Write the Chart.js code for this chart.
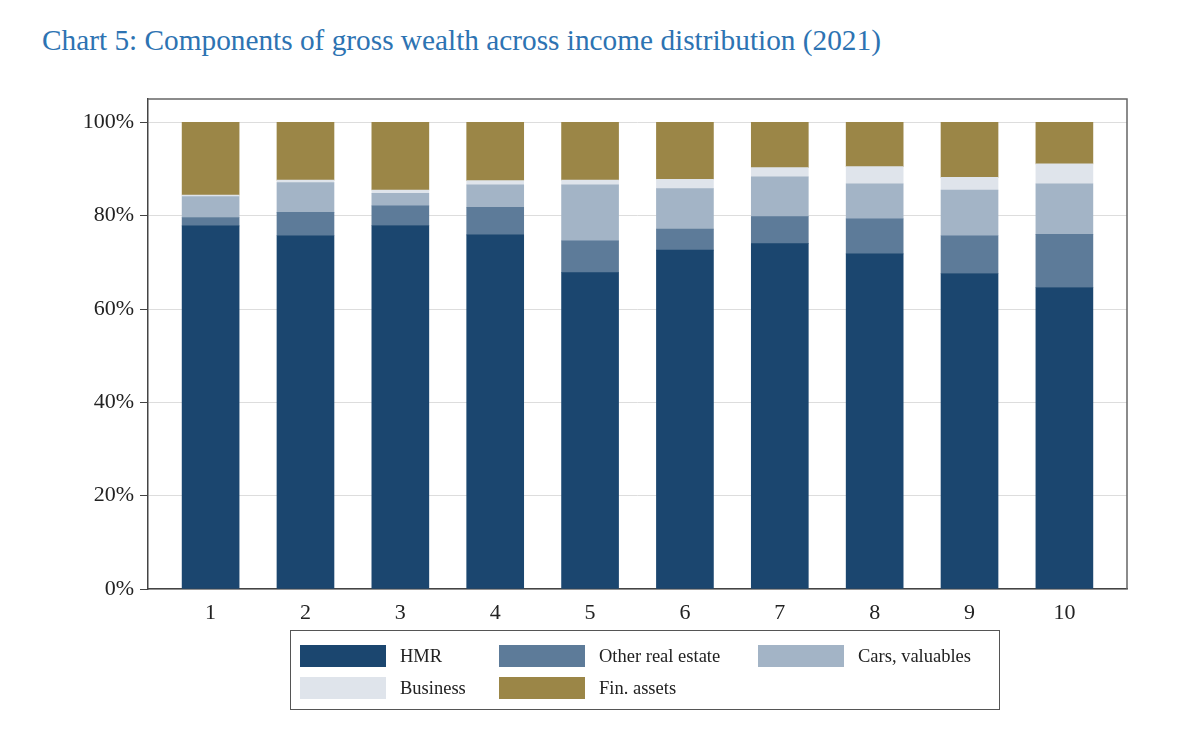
<!DOCTYPE html>
<html>
<head>
<meta charset="utf-8">
<script src="https://cdn.jsdelivr.net/npm/chart.js@4.4.1/dist/chart.umd.min.js"></script>
<style>
  body { margin: 0; background: #fff; }
  #wrap { position: relative; width: 1200px; height: 737px; overflow: hidden; }
  #title { position: absolute; left: 42px; top: 24px; margin: 0; font-weight: normal; font: 29.3px "Liberation Serif", serif; color: #2d73b2; white-space: nowrap; }
  #chart { position: absolute; left: 0; top: 0; }
  #legend { position: absolute; left: 290px; top: 630px; width: 710px; height: 80px; border: 1.5px solid #555; box-sizing: border-box; font: 18.5px "Liberation Serif", serif; color: #222; }
  .item { position: absolute; display: flex; align-items: center; }
  .sw { width: 86px; height: 22px; margin-right: 14px; }
</style>
</head>
<body>
<div id="wrap">
  <h1 id="title">Chart 5: Components of gross wealth across income distribution (2021)</h1>
  <canvas id="chart" width="1200" height="737"></canvas>
  <div id="legend"></div>
</div>
<script>
// income deciles
const deciles = [1, 2, 3, 4, 5, 6, 7, 8, 9, 10];
const yTicks = [0, 20, 40, 60, 80, 100];

// shares of gross wealth, %
const hmr = [77.8, 75.7, 77.9, 75.9, 67.8, 72.6, 74.0, 71.8, 67.6, 64.6];
const otherRealEstate = [1.8, 5.0, 4.2, 5.9, 6.8, 4.5, 5.8, 7.5, 8.1, 11.4];
const carsValuables = [4.5, 6.4, 2.7, 4.8, 12.0, 8.7, 8.5, 7.5, 9.8, 10.8];
const business = [0.3, 0.5, 0.7, 0.9, 1.0, 2.0, 2.0, 3.7, 2.7, 4.3];
const finAssets = [15.6, 12.4, 14.5, 12.5, 12.4, 12.2, 9.7, 9.5, 11.8, 8.9];

const series = [
    { label: 'HMR', values: hmr, color: '#1b466f' },
    { label: 'Other real estate', values: otherRealEstate, color: '#5d7b99' },
    { label: 'Cars, valuables', values: carsValuables, color: '#a3b4c6' },
    { label: 'Business', values: business, color: '#dfe4eb' },
    { label: 'Fin. assets', values: finAssets, color: '#9b8647' },
];

const serif = 'Liberation Serif';

// top and right edges of the plot box
const framePlugin = {
    id: 'frame',
    afterDraw(chart) {
        const { ctx, chartArea: a } = chart;
        ctx.save();
        ctx.strokeStyle = '#666';
        ctx.lineWidth = 1.5;
        ctx.beginPath();
        ctx.moveTo(a.left, a.top);
        ctx.lineTo(a.right, a.top);
        ctx.lineTo(a.right, a.bottom);
        ctx.stroke();
        ctx.restore();
    },
};

new Chart(document.getElementById('chart'), {
    type: 'bar',
    data: {
        datasets: series.map(s => ({
            label: s.label,
            data: deciles.map((d, i) => ({ x: d, y: s.values[i] })),
            backgroundColor: s.color,
            borderWidth: 0,
            barThickness: 57,
        })),
    },
    options: {
        responsive: false,
        animation: false,
        layout: { padding: { left: 0, top: 99, right: 73, bottom: 108 } },
        plugins: {
            legend: { display: false },
            tooltip: { enabled: false },
        },
        scales: {
            x: {
                type: 'linear',
                stacked: true,
                offset: false,
                min: 0.34,
                max: 10.66,
                afterBuildTicks: s => { s.ticks = deciles.map(v => ({ value: v })); },
                afterFit: s => { s.height = 40; },
                grid: { display: false, drawTicks: false, offset: false },
                border: { display: true, color: '#444', width: 1.5 },
                ticks: {
                    padding: 11,
                    autoSkip: false,
                    maxRotation: 0,
                    color: '#222',
                    font: { family: serif, size: 22 },
                },
            },
            y: {
                stacked: true,
                min: 0,
                max: 105,
                afterBuildTicks: s => { s.ticks = yTicks.map(v => ({ value: v })); },
                afterFit: s => { s.width = 148; },
                grid: { color: '#dddddd', tickColor: '#444', tickLength: 8 },
                border: { color: '#444', width: 1.5 },
                ticks: {
                    padding: 6,
                    color: '#222',
                    font: { family: serif, size: 22 },
                    callback: v => v + '%',
                },
            },
        },
    },
    plugins: [framePlugin],
});

// legend box, three columns like the original
const legend = document.getElementById('legend');
const colX = [9, 208, 467];
const rowY = [14, 46];
series.forEach((s, i) => {
    const item = document.createElement('div');
    item.className = 'item';
    item.style.left = colX[i % 3] + 'px';
    item.style.top = rowY[Math.floor(i / 3)] + 'px';
    item.innerHTML = `<span class="sw" style="background:${s.color}"></span><span>${s.label}</span>`;
    legend.appendChild(item);
});
</script>
</body>
</html>
